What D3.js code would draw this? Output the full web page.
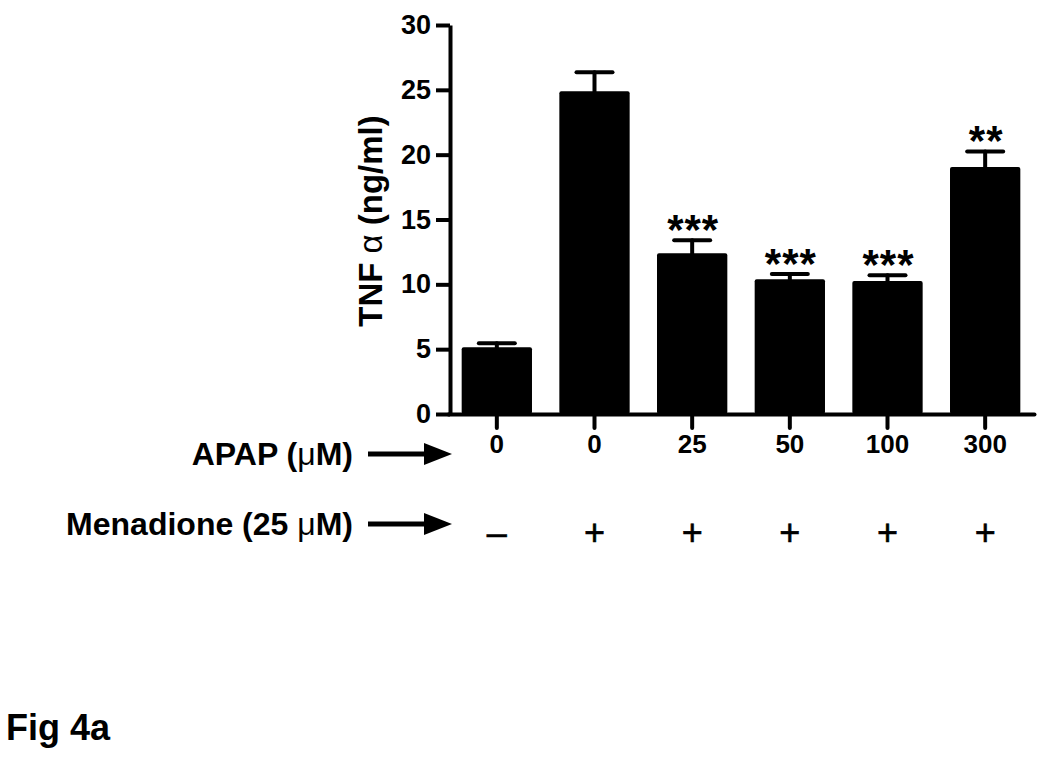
<!DOCTYPE html>
<html>
<head>
<meta charset="utf-8">
<script src="https://cdn.jsdelivr.net/npm/d3@7"></script>
<style>
  body { margin: 0; background: #fff; }
  svg { display: block; font-family: "Liberation Sans", Arial, sans-serif; }
</style>
</head>
<body>
<svg id="chart"></svg>
<script>
// data
const apapLabels = ["0", "0", "25", "50", "100", "300"];
const menadioneLabels = ["\u2013", "+", "+", "+", "+", "+"];
const tnfMeans = [5.15, 24.9, 12.4, 10.4, 10.25, 19.05];
const tnfSem = [0.3, 1.45, 1.0, 0.4, 0.45, 1.2];
const sigLabels = ["", "", "***", "***", "***", "**"];
const yTicks = [0, 5, 10, 15, 20, 25, 30];

const width = 1050;
const height = 761;

const svg = d3.select("#chart")
  .attr("width", width)
  .attr("height", height);

const idx = d3.range(apapLabels.length);

const scX = d3.scaleBand()
  .domain(idx)
  .range([448, 1034])
  .paddingInner(0.28)
  .paddingOuter(0.14);

const scY = d3.scaleLinear()
  .domain([0, 30])
  .range([414, 25]);

// bars
svg.append("g")
  .selectAll("rect")
  .data(idx)
  .join("rect")
  .attr("x", i => scX(i))
  .attr("y", i => scY(tnfMeans[i]))
  .attr("width", scX.bandwidth())
  .attr("height", i => scY(0) - scY(tnfMeans[i]))
  .attr("rx", 2)
  .attr("fill", "#000");

// error bars (upper only)
const capHalf = 18;
let err = svg.append("g")
  .attr("stroke", "#000")
  .attr("stroke-width", 4)
  .attr("stroke-linecap", "round");

err.selectAll("line.v")
  .data(idx)
  .join("line")
  .attr("class", "v")
  .attr("x1", i => scX(i) + scX.bandwidth() / 2)
  .attr("x2", i => scX(i) + scX.bandwidth() / 2)
  .attr("y1", i => scY(tnfMeans[i]))
  .attr("y2", i => scY(tnfMeans[i] + tnfSem[i]));

err.selectAll("line.cap")
  .data(idx)
  .join("line")
  .attr("class", "cap")
  .attr("x1", i => scX(i) + scX.bandwidth() / 2 - capHalf)
  .attr("x2", i => scX(i) + scX.bandwidth() / 2 + capHalf)
  .attr("y1", i => scY(tnfMeans[i] + tnfSem[i]))
  .attr("y2", i => scY(tnfMeans[i] + tnfSem[i]));

// significance stars
svg.append("g")
  .selectAll("text")
  .data(idx.filter(i => sigLabels[i]))
  .join("text")
  .attr("x", i => scX(i) + scX.bandwidth() / 2 + 1)
  .attr("y", i => scY(tnfMeans[i] + tnfSem[i]) + 4)
  .attr("text-anchor", "middle")
  .attr("font-size", 42)
  .attr("font-weight", "bold")
  .attr("letter-spacing", 1)
  .text(i => sigLabels[i]);

// y axis
const gy = svg.append("g")
  .attr("transform", `translate(${scX.range()[0] + 2}, 0)`)
  .call(d3.axisLeft(scY).tickValues(yTicks).tickSize(14).tickSizeOuter(0).tickPadding(5));
gy.select(".domain").attr("stroke-width", 4);
gy.selectAll(".tick line").attr("stroke-width", 4);
gy.selectAll(".tick text")
  .attr("font-size", 27)
  .attr("font-weight", "bold")
  .attr("font-family", "Liberation Sans, Arial, sans-serif");

// x axis
const gx = svg.append("g")
  .attr("transform", `translate(0, ${scY(0)})`)
  .call(d3.axisBottom(scX).tickFormat(i => apapLabels[i]).tickSize(14).tickSizeOuter(0).tickPadding(7));
gx.select(".domain").attr("stroke-width", 4).attr("stroke-linecap", "round");
gx.selectAll(".tick line").attr("stroke-width", 4).attr("stroke-linecap", "round");
gx.selectAll(".tick text")
  .attr("font-size", 26)
  .attr("font-weight", "bold")
  .attr("font-family", "Liberation Sans, Arial, sans-serif");

// menadione row
svg.append("g")
  .selectAll("text")
  .data(idx)
  .join("text")
  .attr("x", i => scX(i) + scX.bandwidth() / 2)
  .attr("y", 545)
  .attr("text-anchor", "middle")
  .attr("font-size", 36)
  .attr("stroke", "#000")
  .attr("stroke-width", 0.6)
  .text(i => menadioneLabels[i]);

// y axis title
let yTitle = svg.append("text")
  .attr("transform", "translate(382, 221) rotate(-90)")
  .attr("text-anchor", "middle")
  .attr("font-size", 33)
  .attr("font-weight", "bold");
yTitle.append("tspan").text("TNF ");
yTitle.append("tspan").attr("font-weight", "normal").text("\u03B1");
yTitle.append("tspan").text(" (ng/ml)");

// row labels with arrows
const rowLabels = [
  { text: ["APAP (", "\u03BC", "M)"], y: 454 },
  { text: ["Menadione (25 ", "\u03BC", "M)"], y: 524 }
];

rowLabels.forEach(function(row) {
  let t = svg.append("text")
    .attr("x", 353)
    .attr("y", row.y + 11)
    .attr("text-anchor", "end")
    .attr("font-size", 32)
    .attr("font-weight", "bold");
  t.append("tspan").text(row.text[0]);
  t.append("tspan").attr("font-weight", "normal").text(row.text[1]);
  t.append("tspan").text(row.text[2]);

  svg.append("line")
    .attr("x1", 368)
    .attr("x2", 428)
    .attr("y1", row.y)
    .attr("y2", row.y)
    .attr("stroke", "#000")
    .attr("stroke-width", 5);
  svg.append("path")
    .attr("d", `M424,${row.y - 11} L452,${row.y} L424,${row.y + 11} Z`)
    .attr("fill", "#000");
});

// figure label
svg.append("text")
  .attr("x", 6)
  .attr("y", 740)
  .attr("font-size", 36)
  .attr("font-weight", "bold")
  .text("Fig 4a");
</script>
</body>
</html>
